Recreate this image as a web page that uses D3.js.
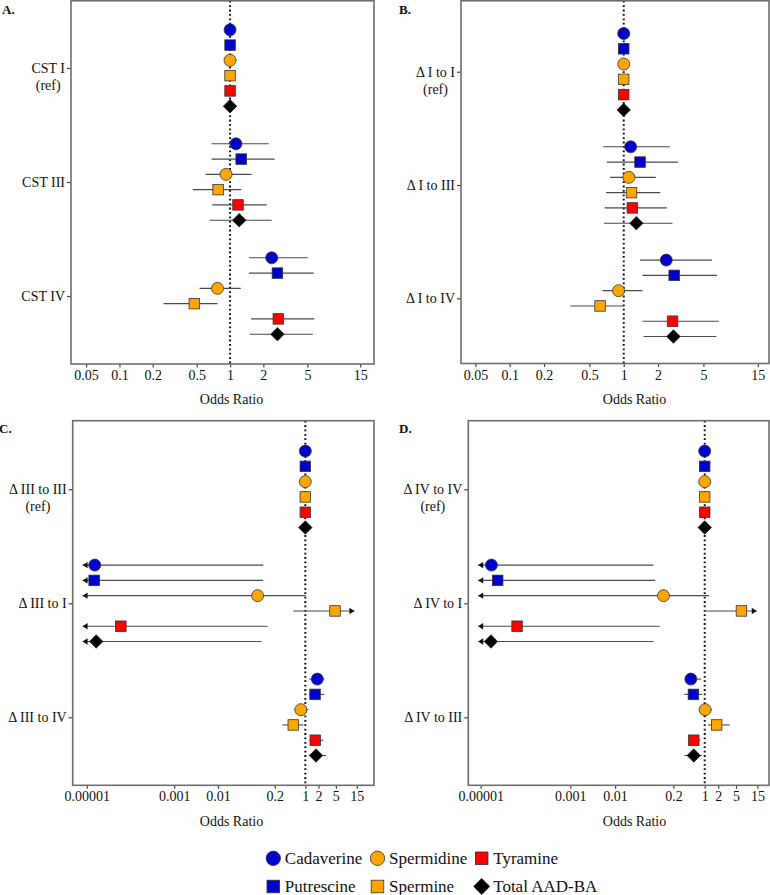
<!DOCTYPE html>
<html>
<head>
<meta charset="utf-8">
<script src="https://cdn.jsdelivr.net/npm/d3@7"></script>
<style>
  html, body { margin: 0; padding: 0; background: #fff; }
  svg { display: block; }
  svg, svg text { font-family: "Liberation Serif", Tinos, "Times New Roman", Times, "DejaVu Serif", serif !important; }
  text { fill: #111; }
</style>
</head>
<body>
<svg id="chart" width="770" height="895"></svg>
<script>
// ---------------- DATA ----------------
const series = ["Cadaverine", "Putrescine", "Spermidine", "Spermine", "Tyramine", "Total AAD-BA"];
const colors = ["#0000CD", "#0000CD", "#FFA500", "#FFA500", "#FF0000", "#000000"];
const shapes = ["circle", "square", "circle", "square", "square", "diamond"];

const ticksAB = [0.05, 0.1, 0.2, 0.5, 1, 2, 5, 15];
const tickLabelsAB = ["0.05", "0.1", "0.2", "0.5", "1", "2", "5", "15"];
const ticksCD = [0.00001, 0.001, 0.01, 0.2, 1, 2, 5, 15];
const tickLabelsCD = ["0.00001", "0.001", "0.01", "0.2", "1", "2", "5", "15"];

// Panel A
const catsA = [["CST I", "(ref)"], ["CST III"], ["CST IV"]];
const orA = [[1, 1, 1, 1, 1, 1],
             [1.13, 1.26, 0.92, 0.78, 1.18, 1.21],
             [2.38, 2.68, 0.77, 0.475, 2.73, 2.68]];
const loA = [null,
             [0.68, 0.68, 0.60, 0.46, 0.69, 0.65],
             [1.48, 1.48, 0.53, 0.25, 1.55, 1.50]];
const hiA = [null,
             [2.24, 2.52, 1.57, 1.26, 2.15, 2.38],
             [5.04, 5.70, 1.25, 0.77, 5.78, 5.60]];

// Panel B
const catsB = [["\u0394 I to I", "(ref)"], ["\u0394 I to III"], ["\u0394 I to IV"]];
const orB = [[1, 1, 1, 1, 1, 1],
             [1.15, 1.39, 1.11, 1.17, 1.19, 1.29],
             [2.36, 2.77, 0.90, 0.62, 2.68, 2.73]];
const loB = [null,
             [0.66, 0.71, 0.76, 0.70, 0.68, 0.67],
             [1.39, 1.46, 0.65, 0.34, 1.46, 1.49]];
const hiB = [null,
             [2.54, 2.99, 1.91, 2.09, 2.39, 2.68],
             [5.94, 6.58, 1.46, 1.00, 6.80, 6.49]];

// Panel C
const catsC = [["\u0394 III to III", "(ref)"], ["\u0394 III to I"], ["\u0394 III to IV"]];
const orC = [[1, 1, 1, 1, 1, 1],
             [1.52e-5, 1.47e-5, 0.081, 4.78, 6.0e-5, 1.64e-5],
             [1.88, 1.67, 0.79, 0.53, 1.69, 1.76]];
const loC = [null,
             [8e-6, 8e-6, 8e-6, 0.53, 8e-6, 8e-6],
             [1.23, 1.21, 0.56, 0.30, 1.23, 1.23]];
const hiC = [null,
             [0.109, 0.109, 1.02, 13.3, 0.137, 0.100],
             [2.72, 2.72, 1.17, 0.90, 2.58, 2.98]];
const arrowLoC = [null, [true, true, true, false, true, true], null];
const arrowHiC = [null, [false, false, false, true, false, false], null];

// Panel D
const catsD = [["\u0394 IV to IV", "(ref)"], ["\u0394 IV to I"], ["\u0394 IV to III"]];
const orD = [[1, 1, 1, 1, 1, 1],
             [1.74e-5, 2.4e-5, 0.12, 6.6, 6.5e-5, 1.7e-5],
             [0.49, 0.56, 1.02, 1.85, 0.57, 0.57]];
const loD = [null,
             [8.8e-6, 8.8e-6, 8.8e-6, 0.97, 8.8e-6, 8.8e-6],
             [0.37, 0.35, 0.75, 1.19, 0.42, 0.35]];
const hiD = [null,
             [0.072, 0.079, 1.25, 14.5, 0.099, 0.072],
             [0.83, 0.87, 1.46, 3.60, 0.80, 0.86]];
const arrowLoD = [null, [true, true, true, false, true, true], null];
const arrowHiD = [null, [false, false, false, true, false, false], null];

// ---------------- LAYOUT ----------------
const panels = [
  { tag: "A.", tagPos: [2, 14], frame: [71, 0.8, 374, 364], catRange: [68, 296],
    domain: [0.0365, 20.0], ticks: ticksAB, tickLabels: tickLabelsAB, tickY: 380, titleX: 231.5, titleY: 404,
    cats: catsA, or: orA, lo: loA, hi: hiA, aLo: null, aHi: null },
  { tag: "B.", tagPos: [399, 14], frame: [461, 0.8, 769, 363.5], catRange: [71.7, 298.3],
    domain: [0.0374, 18.8], ticks: ticksAB, tickLabels: tickLabelsAB, tickY: 380, titleX: 634.5, titleY: 404,
    cats: catsB, or: orB, lo: loB, hi: hiB, aLo: null, aHi: null },
  { tag: "C.", tagPos: [-1, 433], frame: [72.7, 420.7, 374, 785.3], catRange: [489.3, 717.3],
    domain: [4.75e-6, 37.3], ticks: ticksCD, tickLabels: tickLabelsCD, tickY: 801, titleX: 231.5, titleY: 826,
    cats: catsC, or: orC, lo: loC, hi: hiC, aLo: arrowLoC, aHi: arrowHiC },
  { tag: "D.", tagPos: [399, 433], frame: [468.3, 420.7, 769, 785.3], catRange: [489.3, 717.3],
    domain: [5.3e-6, 27.2], ticks: ticksCD, tickLabels: tickLabelsCD, tickY: 801, titleX: 634.5, titleY: 826,
    cats: catsD, or: orD, lo: loD, hi: hiD, aLo: arrowLoD, aHi: arrowHiD }
];

const SERIF = '"Liberation Serif", Tinos, "Times New Roman", Times, "DejaVu Serif", serif';
const svg = d3.select("#chart").attr("font-family", SERIF);
const FONT = 14;

function drawMarker(g, shape, x, y, color, size) {
  if (shape === "circle") {
    g.append("circle").attr("cx", x).attr("cy", y).attr("r", size)
      .attr("fill", color).attr("stroke", "#333").attr("stroke-width", 0.8);
  } else if (shape === "square") {
    const s = size * 1.75;
    g.append("rect").attr("x", x - s / 2).attr("y", y - s / 2).attr("width", s).attr("height", s)
      .attr("fill", color).attr("stroke", "#333").attr("stroke-width", 0.8);
  } else {
    const d = size * 1.12;
    g.append("path").attr("d", `M${x},${y - d}L${x + d},${y}L${x},${y + d}L${x - d},${y}Z`)
      .attr("fill", color).attr("stroke", "#222").attr("stroke-width", 0.8);
  }
}

panels.forEach(p => {
  const [x0, y0, x1, y1] = p.frame;
  const g = svg.append("g").attr("font-family", SERIF);
  const x = d3.scaleLog().domain(p.domain).range([x0, x1]);
  const catKeys = p.cats.map((c, i) => "c" + i);
  const y = d3.scalePoint().domain(catKeys).range(p.catRange);
  const off = d3.scalePoint().domain(series).range([-38.2, 38.2]);

  const xAxis = d3.axisBottom(x).tickValues(p.ticks).tickSize(3.5).tickPadding(2)
    .tickFormat((d, i) => p.tickLabels[i]);
  const xg = g.append("g").attr("transform", `translate(0,${y1})`).call(xAxis);
  xg.attr("font-family", SERIF).attr("font-size", FONT);
  xg.select(".domain").remove();
  xg.selectAll(".tick line").attr("stroke", "#444").attr("stroke-width", 1.2);
  xg.selectAll(".tick text").attr("font-size", FONT).attr("font-family", SERIF)
    .attr("fill", "#111").attr("dy", null).attr("y", p.tickY - y1);

  const yAxis = d3.axisLeft(y).tickSize(4).tickFormat("");
  const yg = g.append("g").attr("transform", `translate(${x0},0)`).call(yAxis);
  yg.select(".domain").remove();
  yg.selectAll(".tick line").attr("stroke", "#444").attr("stroke-width", 1.2);

  p.cats.forEach((lines, i) => {
    const cy = y(catKeys[i]);
    const t1 = g.append("text").attr("font-size", FONT).attr("text-anchor", "end")
      .attr("x", x0 - 6).attr("y", cy + 4.8).text(lines[0]);
    if (lines.length > 1) {
      const w = t1.node().getComputedTextLength();
      g.append("text").attr("font-size", FONT).attr("text-anchor", "middle")
        .attr("x", x0 - 6 - w / 2).attr("y", cy + 22).text(lines[1]);
    }
  });

  g.append("line").attr("x1", x(1)).attr("x2", x(1)).attr("y1", y0).attr("y2", y1)
    .attr("stroke", "#111").attr("stroke-width", 2).attr("stroke-dasharray", "1.8,2.6");

  p.cats.forEach((c, i) => {
    if (!p.lo[i]) return;
    series.forEach((s, j) => {
      const yy = y(catKeys[i]) + off(s);
      const xa = x(p.lo[i][j]), xb = x(p.hi[i][j]);
      g.append("line").attr("x1", xa).attr("x2", xb).attr("y1", yy).attr("y2", yy)
        .attr("stroke", "#4a4a4a").attr("stroke-width", 1.1);
      if (p.aLo && p.aLo[i] && p.aLo[i][j]) {
        g.append("path").attr("d", `M${xa},${yy}L${xa + 5},${yy - 3.2}L${xa + 5},${yy + 3.2}Z`).attr("fill", "#111");
      }
      if (p.aHi && p.aHi[i] && p.aHi[i][j]) {
        g.append("path").attr("d", `M${xb},${yy}L${xb - 5},${yy - 3.2}L${xb - 5},${yy + 3.2}Z`).attr("fill", "#111");
      }
    });
  });

  p.cats.forEach((c, i) => {
    series.forEach((s, j) => {
      const yy = y(catKeys[i]) + off(s);
      drawMarker(g, shapes[j], x(p.or[i][j]), yy, colors[j], 6);
    });
  });

  g.append("rect").attr("x", x0).attr("y", y0).attr("width", x1 - x0).attr("height", y1 - y0)
    .attr("fill", "none").attr("stroke", "#6e6e6e").attr("stroke-width", 1.6);

  g.append("text").attr("x", p.titleX).attr("y", p.titleY).attr("text-anchor", "middle")
    .attr("font-size", FONT).text("Odds Ratio");

  g.append("text").attr("x", p.tagPos[0]).attr("y", p.tagPos[1]).attr("font-size", 13)
    .attr("font-weight", "bold").text(p.tag);
});

// ---------------- LEGEND ----------------
const legendOrder = [0, 2, 4, 1, 3, 5];
const legCols = [273.3, 377.5, 481.7];
const legRows = [858.3, 886.5];
legendOrder.forEach((si, k) => {
  const col = k % 3, row = Math.floor(k / 3);
  const lx = legCols[col], ly = legRows[row];
  const lg = svg.append("g").attr("font-family", SERIF);
  drawMarker(lg, shapes[si], lx, ly, colors[si], 7.2);
  lg.append("text").attr("x", lx + 11.5).attr("y", ly + 5.8).attr("font-size", 17).text(series[si]);
});
</script>
</body>
</html>
